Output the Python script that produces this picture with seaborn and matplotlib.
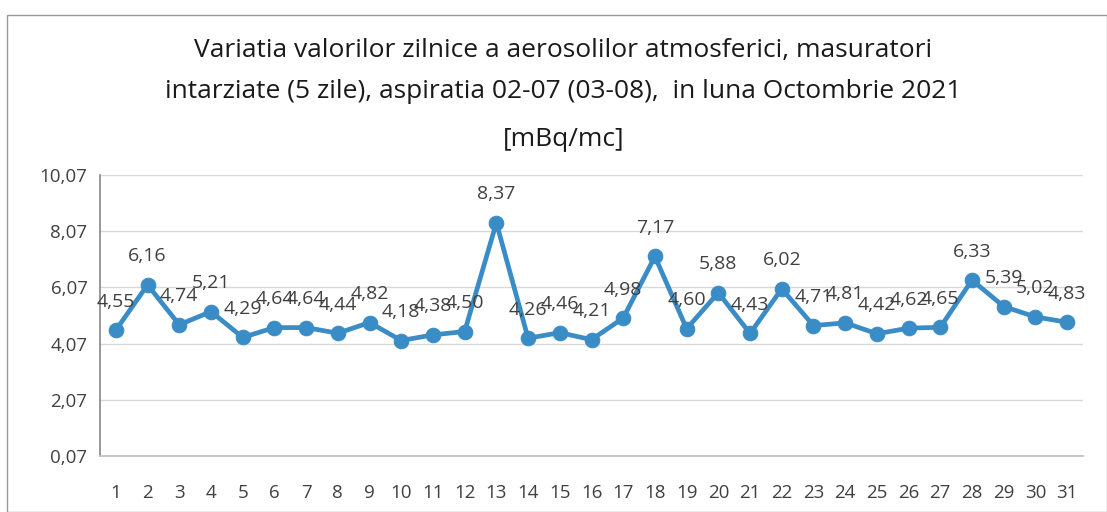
import matplotlib
matplotlib.use("Agg")
import matplotlib.pyplot as plt
import seaborn as sns
import pandas as pd
from matplotlib.patches import Rectangle

days = list(range(1, 32))
values = [4.55, 6.16, 4.74, 5.21, 4.29, 4.64, 4.64, 4.44, 4.82, 4.18,
          4.38, 4.50, 8.37, 4.26, 4.46, 4.21, 4.98, 7.17, 4.60, 5.88,
          4.43, 6.02, 4.71, 4.81, 4.42, 4.62, 4.65, 6.33, 5.39, 5.02, 4.83]
yticks = [0.07, 2.07, 4.07, 6.07, 8.07, 10.07]
title_lines = ["Variatia valorilor zilnice a aerosolilor atmosferici, masuratori",
               "intarziate (5 zile), aspiratia 02-07 (03-08),  in luna Octombrie 2021",
               "[mBq/mc]"]

sns.set_theme(style="white")
plt.rcParams['font.family'] = ['Open Sans', 'DejaVu Sans']

df = pd.DataFrame({"day": days, "value": values})

W, H = 1107, 512
fig = plt.figure(figsize=(W / 100, H / 100), dpi=100)
ax = fig.add_axes([100 / W, (H - 456) / H, 983 / W, (456 - 175) / H])

color = "#3A8CC6"
sns.lineplot(data=df, x="day", y="value", ax=ax, color=color, linewidth=3.4,
             marker="o", markersize=10.5, markeredgecolor=color, markerfacecolor=color)

ax.set_xlim(0.5, 31.5)
ax.set_ylim(0.07, 10.07)
ax.set_yticks(yticks)
ax.set_yticklabels([f"{t:.2f}".replace(".", ",") for t in yticks])
ax.set_xticks(days)
ax.set_xticklabels([str(d) for d in days])
ax.tick_params(axis="x", labelsize=13.5, colors="#404040", length=0, pad=20)
ax.tick_params(axis="y", labelsize=13.5, colors="#404040", length=6,
               color="#8c8c8c", direction="out", width=1, pad=3)
ax.set_xlabel("")
ax.set_ylabel("")
ax.grid(axis="y", color="#d9d9d9", linewidth=1)
for s in ["top", "right"]:
    ax.spines[s].set_visible(False)
ax.spines["left"].set_color("#8c8c8c")
ax.spines["bottom"].set_color("#bfbfbf")

for d, v in zip(days, values):
    ax.annotate(f"{v:.2f}".replace(".", ","), (d, v), xytext=(0, 14),
                textcoords="offset points", ha="center", va="bottom",
                fontsize=14, color="#404040")

for y, line in zip([50, 92, 140], title_lines):
    fig.text(0.5 + 10 / W, (H - y) / H, line, ha="center", va="center",
             fontsize=19, color="#1a1a1a")

fig.patches.append(Rectangle((7 / W, 0), (W - 7) / W, (H - 15) / H,
                             transform=fig.transFigure, fill=False,
                             edgecolor="#9a9a9a", linewidth=1))

fig.savefig("out.png", dpi=100)
